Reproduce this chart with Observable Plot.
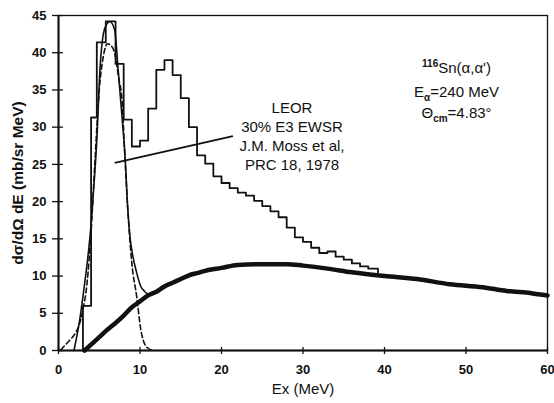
<!DOCTYPE html>
<html><head><meta charset="utf-8">
<script src="https://cdn.jsdelivr.net/npm/d3@7"></script>
<script src="https://cdn.jsdelivr.net/npm/@observablehq/plot@0.6"></script>
<style>body{margin:0;background:#fff} svg{display:block}</style>
</head><body><div id="chart"></div>
<script>
// Histogram (bin edges in MeV, bin heights in mb/sr MeV)
const histEdges = [3,4,4.7,5.8,7,8,9,10,11,12,13,14,15,16,17,18,19,20,21,22,23,24,25,26,27,28,29,30,31,32,33,34,35,36,37,38,39.2];
const histValues = [6,31.3,41.4,44.2,38.5,31,27.4,28.2,32.5,37.7,39,37,33.9,30,26.2,25.1,23.4,22.5,21.8,21.2,20.8,20.1,19.4,18.7,17.9,16.5,15.2,14.6,13.8,13.1,13.3,12.6,12.2,11.7,11.3,11.0];
const histEndValue = 10.3;
// Thin solid fit curve
const fitX = [1.9,2.6,3.1,3.6,4.0,4.4,4.7,5.1,5.5,5.9,6.3,6.9,7.3,7.8,8.2,8.5,8.8,9.1,9.6,10.1,10.6,11.0];
const fitY = [0,4.1,8.1,12.5,17,23,28.2,38,42.5,43.8,44.2,43,38,31.3,25.5,19,15,12.8,10.4,8.6,7.9,7.5];
// Dashed peak curve
const gaussX = [0.3,0.8,1.4,2.0,2.5,3.0,3.5,4.0,4.5,5.0,5.5,6.0,6.4,6.9,7.4,7.8,8.1,8.5,9.0,9.6,10.1,10.6,11.0,11.5];
const gaussY = [0.1,0.7,1.4,2.2,3.3,5.5,9,16,26,35,39.5,41.2,41,39.9,36.5,33.5,27,19,11.7,7.2,2.8,0.8,0.3,0];
// Thick background curve
const bgX = [3.2,4,5,6,7,8,9,10,11,12,13,14,15,16,17,18,20,22,25,28,30,33,36,40,44,48,52,55,58,60];
const bgY = [0,0.8,1.8,2.8,3.7,4.7,5.8,6.6,7.4,7.9,8.6,9.1,9.6,10.1,10.4,10.7,11.1,11.5,11.6,11.6,11.4,11.0,10.5,10.0,9.6,8.9,8.5,8.0,7.7,7.4];
// Annotation
const annotationLine = [{x1: 6.9, y1: 25.2, x2: 21.4, y2: 28.8}];
const noteLines = ["LEOR", "30% E3 EWSR", "J.M. Moss et al,", "PRC 18, 1978"];
const notePos = {x: 28.65, y: 28.85};
const infoPos = {x: 48.9, y: [37.9, 34.7, 31.9]};
const xTicks = [0,10,20,30,40,50,60];
const yTicks = [0,5,10,15,20,25,30,35,40,45];
const xLabel = "Ex (MeV)";
const yLabel = "dσ/dΩ dE (mb/sr MeV)";

const hist = histEdges.map((e, i) => ({x: e, y: i < histValues.length ? histValues[i] : histEndValue}));
hist.unshift({x: histEdges[0], y: 0});
const fit = fitX.map((x, i) => ({x, y: fitY[i]}));
const gauss = gaussX.map((x, i) => ({x, y: gaussY[i]}));
const bg = bgX.map((x, i) => ({x, y: bgY[i]}));

const font = "'Liberation Sans', Arial, sans-serif";
const plot = Plot.plot({
  width: 554, height: 403,
  marginLeft: 58, marginRight: 7, marginTop: 15, marginBottom: 53,
  x: {domain: [0, 60]}, y: {domain: [0, 45]},
  style: {fontFamily: font, fontSize: "13px", color: "#111", background: "#fff", overflow: "visible"},
  marks: [
    Plot.frame({strokeWidth: 1.3}),
    Plot.axisY({ticks: yTicks, tickSize: 11, dx: 5, tickFormat: () => "", label: null, strokeWidth: 1.3}),
    Plot.axisY({ticks: yTicks, tickSize: 0, tickPadding: 12, fontWeight: "bold", fontSize: 13, label: null}),
    Plot.axisX({ticks: xTicks, tickSize: 7, dy: -3, tickFormat: () => "", label: null, strokeWidth: 1.3}),
    Plot.axisX({ticks: xTicks, tickSize: 0, tickPadding: 14, fontWeight: "bold", fontSize: 13, label: null}),
    Plot.ruleX([0], {strokeWidth: 2}),
    Plot.ruleY([0], {strokeWidth: 2}),
    Plot.line(bg, {x: "x", y: "y", strokeWidth: 4.5, curve: "monotone-x"}),
    Plot.line(gauss, {x: "x", y: "y", strokeWidth: 1.6, strokeDasharray: "5,3", curve: "monotone-x"}),
    Plot.line(fit, {x: "x", y: "y", strokeWidth: 1.6, curve: "monotone-x"}),
    Plot.line(hist, {x: "x", y: "y", strokeWidth: 1.8, curve: "step-after"}),
    Plot.link(annotationLine, {x1: "x1", y1: "y1", x2: "x2", y2: "y2", strokeWidth: 1.8}),
    Plot.text([noteLines.join("\n")], {x: notePos.x, y: notePos.y, text: d => d, lineHeight: 1.27, fontSize: 15}),
    Plot.text([yLabel], {frameAnchor: "left", textAnchor: "middle", text: d => d, rotate: -90, dx: -40, fontWeight: "bold", fontSize: 15.5}),
    Plot.text([xLabel], {frameAnchor: "bottom", textAnchor: "middle", text: d => d, dy: 43, fontSize: 15})
  ]
});

// Reaction label with super/subscripts, placed through the plot's scales
const sx = plot.scale("x"), sy = plot.scale("y");
const svg = d3.select(plot);
const g = svg.append("g").attr("font-family", font).attr("font-size", 15).attr("fill", "#111").attr("text-anchor", "middle");
const cx = sx.apply(infoPos.x);
const t1 = g.append("text").attr("x", cx).attr("y", sy.apply(infoPos.y[0]) + 5);
t1.append("tspan").attr("font-size", 10).attr("font-weight", "bold").attr("dy", -6).text("116");
t1.append("tspan").attr("dy", 6).text("Sn(α,α')");
const t2 = g.append("text").attr("x", cx).attr("y", sy.apply(infoPos.y[1]) + 5);
t2.append("tspan").text("E");
t2.append("tspan").attr("font-size", 10).attr("font-weight", "bold").attr("dy", 4).text("α");
t2.append("tspan").attr("dy", -4).text("=240 MeV");
const t3 = g.append("text").attr("x", cx).attr("y", sy.apply(infoPos.y[2]) + 5);
t3.append("tspan").text("Θ");
t3.append("tspan").attr("font-size", 10).attr("font-weight", "bold").attr("dy", 4).text("cm");
t3.append("tspan").attr("dy", -4).text("=4.83°");

document.getElementById("chart").append(plot);
</script>
</body></html>
